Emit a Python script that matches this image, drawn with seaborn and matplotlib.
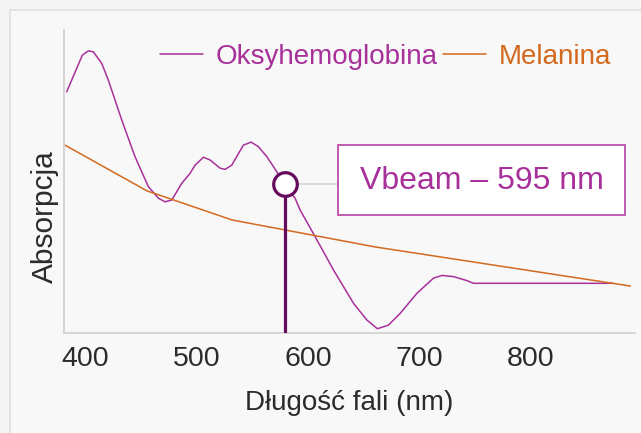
import matplotlib
matplotlib.use("Agg")
import matplotlib.pyplot as plt
from matplotlib.patches import Rectangle
import seaborn as sns
import pandas as pd

# wavelengths (nm) and relative absorption
oxy_nm = [383.2, 397.3, 402.7, 407.1, 414.7, 420.6, 432.7, 444.6, 456.6, 465.6,
          471.6, 477.7, 486.6, 494.1, 498.6, 506.1, 512.1, 521.1, 525.6, 531.6,
          542.0, 549.0, 555.5, 563.1, 572.1, 579.5, 588.5, 593.0, 606.5, 623.0,
          641.0, 653.0, 662.5, 672.4, 683.0, 698.0, 712.9, 720.5, 730.9, 742.9,
          748.9, 874.5]
oxy_abs = [79.6, 91.7, 93.1, 92.8, 89.0, 83.5, 70.3, 58.2, 48.3, 44.5,
           43.3, 43.9, 49.4, 52.7, 55.4, 58.0, 57.1, 54.4, 54.0, 55.4,
           62.0, 63.0, 61.5, 58.2, 53.2, 48.5, 44.5, 40.6, 31.8, 20.8,
           9.8, 4.3, 1.4, 2.6, 6.5, 13.1, 18.1, 19.0, 18.6, 17.3,
           16.4, 16.4]

mel_nm = [381.7, 455.4, 531.9, 660.5, 889.8]
mel_abs = [62.0, 46.9, 37.3, 28.4, 15.5]

vbeam_nm = 579.5
vbeam_abs = 49.2
xticks = [400, 500, 600, 700, 800]

oxy_color = "#a8309a"
mel_color = "#d2691e"
beam_color = "#650a5c"

df = pd.concat([
    pd.DataFrame({"nm": oxy_nm, "abs": oxy_abs, "serie": "Oksyhemoglobina"}),
    pd.DataFrame({"nm": mel_nm, "abs": mel_abs, "serie": "Melanina"}),
])

sns.set_style("white")
plt.rcParams["font.family"] = ["Liberation Sans", "DejaVu Sans"]

fig = plt.figure(figsize=(6.41, 4.33), dpi=100, facecolor="#f5f5f5")
fig.add_artist(Rectangle((10 / 641, -0.1), 1.2, 1 - 10 / 433 + 0.1,
                         transform=fig.transFigure, facecolor="#f8f8f8",
                         edgecolor="#e3e3e3", lw=1.5, zorder=0))

ax = fig.add_axes([64 / 641, 100 / 433, 571 / 641, 303 / 433])
ax.set_facecolor("none")

sns.lineplot(data=df, x="nm", y="abs", hue="serie", sort=False,
             palette={"Oksyhemoglobina": oxy_color, "Melanina": mel_color},
             lw=1.1, ax=ax)

# connector to the label box
ax.plot([vbeam_nm, 640], [vbeam_abs, vbeam_abs], color="#d8d8d8", lw=1.3, zorder=1)
ax.plot([vbeam_nm, vbeam_nm], [0, vbeam_abs], color=beam_color, lw=2.3, zorder=4)
ax.plot(vbeam_nm, vbeam_abs, "o", ms=17, mfc="white", mec=beam_color, mew=2.3, zorder=5)

ax.set_xlim(380.8, 894)
ax.set_ylim(0, 100)
ax.set_xticks(xticks)
ax.set_yticks([])
ax.tick_params(axis="x", length=0, pad=9, labelsize=20.5, labelcolor="#2b2b2b")
for s in ["top", "right"]:
    ax.spines[s].set_visible(False)
for s in ["left", "bottom"]:
    ax.spines[s].set_color("#d3d3d3")
    ax.spines[s].set_linewidth(1.3)

ax.set_xlabel("Długość fali (nm)", fontsize=20, color="#2b2b2b", labelpad=13)
ax.set_ylabel("Absorpcja", fontsize=21.5, color="#2b2b2b")
ax.yaxis.set_label_coords(-0.009, 0.383)

leg = ax.legend(loc="upper left", bbox_to_anchor=(96 / 571, 1 - 14 / 303),
                ncol=2, frameon=False, fontsize=20, labelcolor="linecolor",
                handlelength=1.55, handletextpad=0.45, columnspacing=0.2,
                borderpad=0, borderaxespad=0)
leg.set_title(None)

# label box
fig.add_artist(Rectangle((338 / 641, 1 - 215 / 433), 287 / 641, 70 / 433,
                         transform=fig.transFigure, facecolor="white",
                         edgecolor="#b540a3", lw=1.2, zorder=6))
fig.text(481.5 / 641, 1 - 181 / 433, "Vbeam – 595 nm", fontsize=23,
         color=oxy_color, ha="center", va="center", zorder=7)

fig.savefig("out.png", dpi=100, facecolor=fig.get_facecolor())
